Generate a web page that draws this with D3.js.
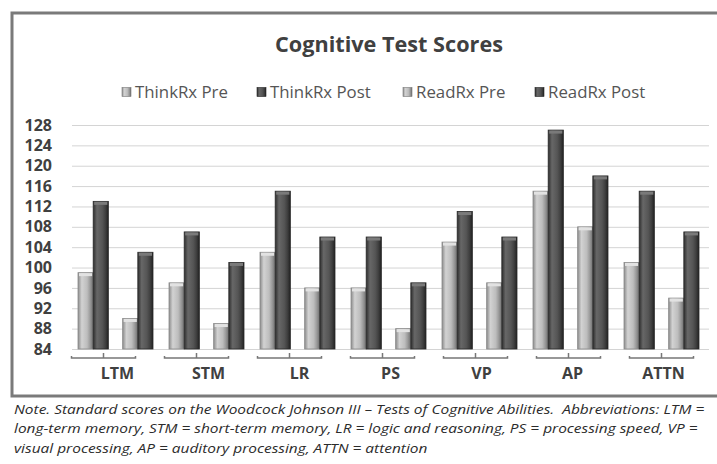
<!DOCTYPE html>
<html>
<head>
<meta charset="utf-8">
<script src="https://cdn.jsdelivr.net/npm/d3@7"></script>
<style>
  body { margin: 0; background: #fff; }
  text { font-family: "Open Sans", "Noto Sans", sans-serif; }
</style>
</head>
<body>
<svg id="chart"></svg>
<script>
// DATA
const categories = ["LTM", "STM", "LR", "PS", "VP", "AP", "ATTN"];
const seriesNames = ["ThinkRx Pre", "ThinkRx Post", "ReadRx Pre", "ReadRx Post"];
const thinkPre = [99, 97, 103, 96, 105, 115, 101];
const thinkPost = [113, 107, 115, 106, 111, 127, 115];
const readPre = [90, 89, 96, 88, 97, 108, 94];
const readPost = [103, 101, 106, 97, 106, 118, 107];
const yTicks = [84, 88, 92, 96, 100, 104, 108, 112, 116, 120, 124, 128];
const noteLines = [
  "Note. Standard scores on the Woodcock Johnson III \u2013 Tests of Cognitive Abilities.  Abbreviations: LTM =",
  "long-term memory, STM = short-term memory, LR = logic and reasoning, PS = processing speed, VP =",
  "visual processing, AP = auditory processing, ATTN = attention"
];

// DIMENSIONS
const dims = { width: 717, height: 464 };
const plot = { left: 72, right: 709, top: 125, bottom: 349 };

const svg = d3.select("#chart")
  .attr("width", dims.width)
  .attr("height", dims.height);

// scale a text's font size so it spans the given width
function fitFont(sel, width) {
  const node = sel.node();
  const size = parseFloat(sel.attr("font-size"));
  const len = node.getComputedTextLength();
  const newSize = (size * width) / len;
  sel.attr("font-size", newSize);
  return newSize;
}

// GRADIENTS FOR THE 3D-ISH BARS
const defs = svg.append("defs");
function addGradient(id, stops) {
  const g = defs.append("linearGradient").attr("id", id)
    .attr("x1", "0%").attr("x2", "100%").attr("y1", "0%").attr("y2", "0%");
  stops.forEach(([o, c]) => g.append("stop").attr("offset", o).attr("stop-color", c));
}
addGradient("gPre", [["0%", "#8c8c8c"], ["25%", "#d2d2d2"], ["60%", "#bdbdbd"], ["80%", "#9a9a9a"], ["100%", "#6e6e6e"]]);
addGradient("gPost", [["0%", "#2e2e2e"], ["25%", "#676767"], ["60%", "#555555"], ["80%", "#404040"], ["100%", "#222222"]]);

// BORDER
svg.append("rect")
  .attr("x", 12).attr("y", 13)
  .attr("width", 720).attr("height", 383)
  .attr("fill", "none")
  .attr("stroke", "#7a7a7a")
  .attr("stroke-width", 3);

// TITLE
const title = svg.append("text")
  .attr("x", 389).attr("y", 52)
  .attr("text-anchor", "middle")
  .attr("font-size", 20)
  .attr("font-weight", "bold")
  .attr("fill", "#404040")
  .text("Cognitive Test Scores");
fitFont(title, 228);

// SCALES
const x0 = d3.scaleBand().domain(categories).range([plot.left, plot.right]);
const x1 = d3.scaleBand().domain(["ThinkRx", "ReadRx"]).range([6, 81]).paddingInner(0.32);
const x2 = d3.scaleBand().domain(["Pre", "Post"]).range([0, x1.bandwidth()]);
const y = d3.scaleLinear().domain([84, 128]).range([plot.bottom, plot.top]);

// GRIDLINES + Y LABELS
const yAxis = svg.append("g")
  .attr("transform", `translate(${plot.left},0)`)
  .call(d3.axisLeft(y).tickValues(yTicks).tickSize(-(plot.right - plot.left)).tickPadding(20));
yAxis.select(".domain").remove();
yAxis.selectAll("line").attr("stroke", "#d4d4d4");
yAxis.selectAll("text")
  .attr("font-family", "'Open Sans', sans-serif")
  .attr("font-size", 16)
  .attr("font-weight", "bold")
  .attr("fill", "#404040");

// BARS
const rows = categories.map((c, i) => ({
  cat: c,
  bars: [
    { group: "ThinkRx", phase: "Pre", value: thinkPre[i] },
    { group: "ThinkRx", phase: "Post", value: thinkPost[i] },
    { group: "ReadRx", phase: "Pre", value: readPre[i] },
    { group: "ReadRx", phase: "Post", value: readPost[i] }
  ]
}));

const catG = svg.append("g")
  .selectAll("g.cat")
  .data(rows)
  .join("g")
  .attr("class", "cat")
  .attr("transform", (d) => `translate(${x0(d.cat)},0)`);

const bar = catG.selectAll("g.bar")
  .data((d) => d.bars)
  .join("g")
  .attr("class", "bar")
  .attr("transform", (d) => `translate(${x1(d.group) + x2(d.phase)},0)`);

bar.append("rect")
  .attr("x", 0)
  .attr("y", (d) => y(d.value))
  .attr("width", x2.bandwidth())
  .attr("height", (d) => y(84) - y(d.value))
  .attr("fill", (d) => (d.phase === "Pre" ? "url(#gPre)" : "url(#gPost)"))
  .attr("stroke", (d) => (d.phase === "Pre" ? "#8a8a8a" : "#2a2a2a"))
  .attr("stroke-width", 0.8);

// top cap
bar.append("rect")
  .attr("x", 1)
  .attr("y", (d) => y(d.value) + 0.5)
  .attr("width", x2.bandwidth() - 2)
  .attr("height", 3)
  .attr("fill", (d) => (d.phase === "Pre" ? "#e2e2e2" : "#7a7a7a"));

// X LABELS
const xAxis = svg.append("g")
  .attr("transform", `translate(0,${plot.bottom})`)
  .call(d3.axisBottom(x0).tickSize(0).tickPadding(19));
xAxis.select(".domain").remove();
xAxis.selectAll("text")
  .attr("font-family", "'Open Sans', sans-serif")
  .attr("font-size", 16)
  .attr("font-weight", "bold")
  .attr("fill", "#404040");

// BRACKETS (perspective floor edge, drifts right across the chart)
const shift = d3.scaleLinear().domain([0, categories.length - 1]).range([-14, -2]);
const bracket = svg.append("g")
  .selectAll("g.bracket")
  .data(categories)
  .join("g")
  .attr("class", "bracket")
  .attr("transform", (d, i) => `translate(${x0(d) + x0.bandwidth() / 2 + shift(i)},358)`);
bracket.append("path")
  .attr("d", "M-32,-2 L-32,0 L32,0 L32,-2")
  .attr("fill", "none")
  .attr("stroke", "#777")
  .attr("stroke-width", 1.5);
bracket.append("line")
  .attr("x1", 0).attr("x2", 0).attr("y1", 0).attr("y2", -5)
  .attr("stroke", "#777")
  .attr("stroke-width", 1.5);

// LEGEND
const legendX = [122, 257, 403, 535];
const legend = svg.append("g")
  .selectAll("g.legend")
  .data(seriesNames)
  .join("g")
  .attr("class", "legend")
  .attr("transform", (d, i) => `translate(${legendX[i]},92)`);
legend.append("rect")
  .attr("x", 0).attr("y", -4.5)
  .attr("width", 9).attr("height", 9)
  .attr("fill", (d, i) => (i % 2 === 0 ? "url(#gPre)" : "url(#gPost)"))
  .attr("stroke", (d, i) => (i % 2 === 0 ? "#777" : "#222"))
  .attr("stroke-width", 0.6);
const legendText = legend.append("text")
  .attr("x", 13)
  .attr("y", 5.5)
  .attr("font-size", 15)
  .attr("fill", "#555")
  .text((d) => d);
const legendSize = fitFont(d3.select(legendText.nodes()[0]), 93);
legendText.attr("font-size", legendSize);

// NOTE (kept at a readable height, stretched sideways to the reference width)
const noteG = svg.append("g");
const note = noteG
  .selectAll("text")
  .data(noteLines)
  .join("text")
  .attr("x", 0)
  .attr("y", (d, i) => 414 + i * 19.5)
  .attr("font-size", 13)
  .attr("font-style", "italic")
  .attr("fill", "#2b2b2b")
  .style("white-space", "pre")
  .text((d) => d);
const noteStretch = 691 / note.nodes()[0].getComputedTextLength();
noteG.attr("transform", `translate(14,0) scale(${noteStretch},1)`);
</script>
</body>
</html>
